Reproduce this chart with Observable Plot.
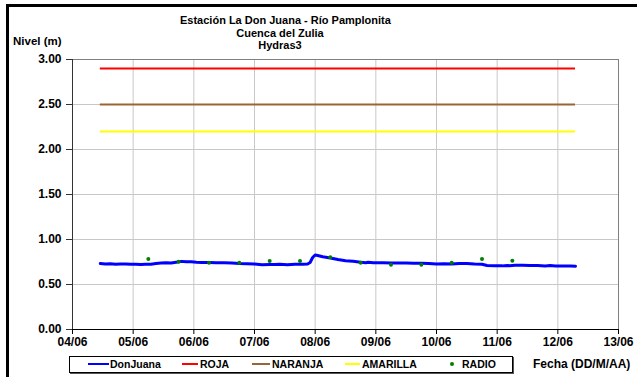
<!DOCTYPE html>
<html>
<head>
<meta charset="utf-8">
<script src="https://cdn.jsdelivr.net/npm/d3@7"></script>
<script src="https://cdn.jsdelivr.net/npm/@observablehq/plot@0.6"></script>
<style>
  html, body { margin: 0; padding: 0; background: #fff; overflow: hidden; }
  #wrap { position: relative; width: 637px; height: 377px; overflow: hidden;
          font-family: "Liberation Sans", Arial, sans-serif; font-weight: bold; color: #000; }
  #wrap svg { position: absolute; left: 0; top: 0; }
  .t { position: absolute; white-space: nowrap; line-height: 1; }
  .frame { position: absolute; left: 6px; top: 4px; width: 700px; height: 500px;
           border-left: 3px solid #000; border-top: 3px solid #000; }
  .lg { position: absolute; left: 69px; top: 356px; width: 442px; height: 15px;
        border: 1px solid #000; box-shadow: 1px 1px 0 #555; background: #fff; }
  .seg { position: absolute; height: 2px; }
  .dotl { position: absolute; width: 4px; height: 4px; border-radius: 50%; background: #008000; }
</style>
</head>
<body>
<div id="wrap"></div>
<script>
// ---- data ----
const levelTimes = [
  "2010-06-04T11:00","2010-06-04T13:00","2010-06-04T15:00","2010-06-04T17:00","2010-06-04T19:00","2010-06-04T21:00","2010-06-04T23:00",
  "2010-06-05T01:00","2010-06-05T03:00","2010-06-05T05:00","2010-06-05T07:00","2010-06-05T09:00","2010-06-05T11:00","2010-06-05T13:00","2010-06-05T15:00","2010-06-05T17:00","2010-06-05T19:00","2010-06-05T21:00","2010-06-05T23:00",
  "2010-06-06T01:00","2010-06-06T03:00","2010-06-06T06:00","2010-06-06T09:00","2010-06-06T12:00","2010-06-06T15:00","2010-06-06T18:00","2010-06-06T21:00",
  "2010-06-07T00:00","2010-06-07T03:00","2010-06-07T06:00","2010-06-07T08:00","2010-06-07T10:00","2010-06-07T13:00","2010-06-07T16:00","2010-06-07T19:00","2010-06-07T21:00","2010-06-07T22:00","2010-06-07T23:00",
  "2010-06-08T00:00","2010-06-08T01:00","2010-06-08T03:00","2010-06-08T06:00","2010-06-08T09:00","2010-06-08T12:00","2010-06-08T15:00","2010-06-08T18:00","2010-06-08T20:00","2010-06-08T21:00","2010-06-08T23:00",
  "2010-06-09T03:00","2010-06-09T06:00","2010-06-09T09:00","2010-06-09T12:00","2010-06-09T15:00","2010-06-09T18:00","2010-06-09T21:00",
  "2010-06-10T00:00","2010-06-10T03:00","2010-06-10T06:00","2010-06-10T09:00","2010-06-10T12:00","2010-06-10T15:00","2010-06-10T18:00","2010-06-10T20:00","2010-06-10T23:00",
  "2010-06-11T02:00","2010-06-11T04:00","2010-06-11T05:00","2010-06-11T07:00","2010-06-11T10:00","2010-06-11T13:00","2010-06-11T16:00","2010-06-11T19:00","2010-06-11T21:00","2010-06-11T23:00",
  "2010-06-12T02:00","2010-06-12T05:00","2010-06-12T07:00"
];
const levelValues = [
  0.733,0.728,0.730,0.726,0.728,0.729,0.724,
  0.725,0.722,0.724,0.726,0.733,0.740,0.742,0.738,0.748,0.757,0.752,0.753,
  0.748,0.745,0.744,0.743,0.742,0.738,0.733,0.730,
  0.727,0.720,0.723,0.721,0.724,0.719,0.725,0.726,0.728,0.745,0.800,
  0.828,0.822,0.808,0.795,0.778,0.765,0.758,0.748,0.742,0.748,0.742,
  0.741,0.740,0.739,0.738,0.736,0.735,0.734,
  0.728,0.730,0.727,0.732,0.734,0.727,0.724,0.712,0.708,
  0.707,0.712,0.708,0.713,0.714,0.712,0.710,0.706,0.710,0.706,
  0.705,0.705,0.704
];
const radioTimes = [
  "2010-06-05T06:00","2010-06-05T18:00","2010-06-06T06:00","2010-06-06T18:00","2010-06-07T06:00","2010-06-07T18:00",
  "2010-06-08T06:00","2010-06-08T18:00","2010-06-09T06:00","2010-06-09T18:00","2010-06-10T06:00","2010-06-10T18:00","2010-06-11T06:00"
];
const radioValues = [0.784,0.753,0.742,0.742,0.761,0.761,0.803,0.742,0.720,0.720,0.742,0.784,0.765];
const thresholdNames = ["ROJA","NARANJA","AMARILLA"];
const thresholdValues = [2.90, 2.50, 2.20];
const thresholdColors = ["#ff0000","#996633","#ffff00"];
const yTicks = [0, 0.5, 1, 1.5, 2, 2.5, 3];
const xStart = "2010-06-04T00:00", xEnd = "2010-06-13T00:00";
const titleLines = ["Estación La Don Juana - Río Pamplonita","Cuenca del Zulia","Hydras3"];

// ---- build ----
const parse = s => new Date(s + "Z");
const level = levelTimes.map((t, i) => ({date: parse(t), value: levelValues[i]}));
const radio = radioTimes.map((t, i) => ({date: parse(t), value: radioValues[i]}));
const tStart = level[0].date, tEnd = level[level.length - 1].date;
const thresholds = thresholdNames.map((n, i) => ({name: n, value: thresholdValues[i], color: thresholdColors[i]}));
const x0 = parse(xStart), x1 = parse(xEnd);
const days = d3.utcDay.range(x0, d3.utcDay.offset(x1, 1));

const chart = Plot.plot({
  width: 637, height: 377,
  marginLeft: 72, marginRight: 19, marginTop: 59, marginBottom: 48,
  style: {fontFamily: "'Liberation Sans', Arial, sans-serif", fontWeight: "bold", fontSize: "12px", color: "#000", background: "transparent", overflow: "visible"},
  x: {type: "utc", domain: [x0, x1]},
  y: {domain: [0, 3]},
  marks: [
    Plot.gridX(days, {stroke: "#c8c8c8", strokeOpacity: 1}),
    Plot.gridY(yTicks, {stroke: "#c8c8c8", strokeOpacity: 1}),
    Plot.ruleY([3], {stroke: "#808080"}),
    Plot.ruleX([x1], {stroke: "#808080"}),
    Plot.ruleY(thresholds, {y: "value", x1: () => tStart, x2: () => tEnd, stroke: "color", strokeWidth: 2}),
    Plot.line(level, {x: "date", y: "value", stroke: "#0000ff", strokeWidth: 3, curve: "linear"}),
    Plot.dot(radio, {x: "date", y: "value", r: 2, fill: "#008000", stroke: "none"}),
    Plot.ruleX([x0], {stroke: "#333"}),
    Plot.ruleY([0], {stroke: "#000"}),
    Plot.axisY(yTicks, {tickFormat: d3.format(".2f"), tickSize: 6, tickPadding: 5, label: null, stroke: "#333"}),
    Plot.axisX(days, {tickFormat: d3.utcFormat("%d/%m"), tickSize: 5, tickPadding: 2.5, label: null, stroke: "#000"})
  ]
});

const wrap = document.getElementById("wrap");
wrap.appendChild(chart);

function addText(txt, left, top, size, extra) {
  const d = document.createElement("div");
  d.className = "t";
  d.textContent = txt;
  d.style.left = left + "px";
  d.style.top = top + "px";
  d.style.fontSize = size + "px";
  if (extra) Object.assign(d.style, extra);
  wrap.appendChild(d);
  return d;
}

const frame = document.createElement("div");
frame.className = "frame";
wrap.appendChild(frame);

// title
titleLines.forEach((l, i) => {
  addText(l, 180, 15 + i * 12.6, 11, {width: "200px", textAlign: "center"});
});
addText("Nivel (m)", 13, 36, 11.5);
addText("Fecha (DD/M/AA)", 533, 358, 12);

// legend
const lg = document.createElement("div");
lg.className = "lg";
wrap.appendChild(lg);
const legendItems = [
  {name: "DonJuana", color: "#0000ff", s0: 88, s1: 109, tx: 110},
  {name: thresholdNames[0], color: thresholdColors[0], s0: 182, s1: 198, tx: 200},
  {name: thresholdNames[1], color: thresholdColors[1], s0: 252, s1: 270, tx: 272},
  {name: thresholdNames[2], color: thresholdColors[2], s0: 345, s1: 360, tx: 362}
];
legendItems.forEach(it => {
  const s = document.createElement("div");
  s.className = "seg";
  s.style.left = it.s0 + "px"; s.style.width = (it.s1 - it.s0) + "px";
  s.style.top = "363px"; s.style.background = it.color;
  wrap.appendChild(s);
  addText(it.name, it.tx, 359, 10.5);
});
const dl = document.createElement("div");
dl.className = "dotl";
dl.style.left = "450px"; dl.style.top = "362px";
wrap.appendChild(dl);
addText("RADIO", 462, 359, 10.5);
</script>
</body>
</html>
